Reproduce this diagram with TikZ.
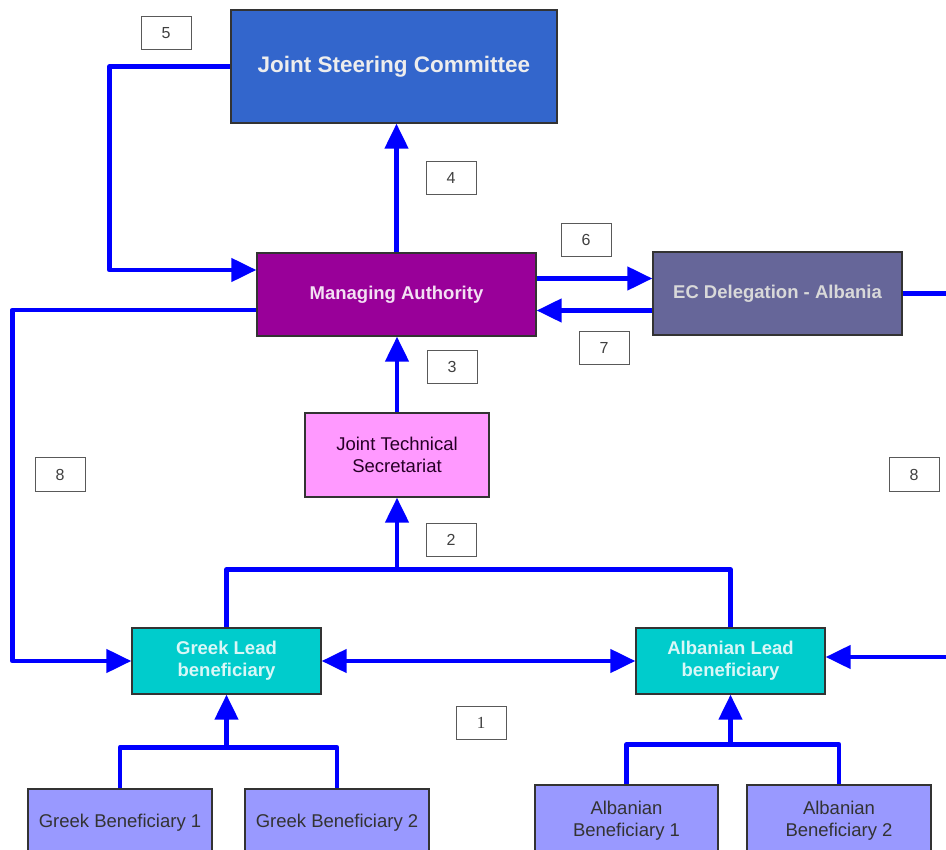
\documentclass[tikz,border=0pt]{standalone}
\usepackage{fontspec}
\setmainfont{Liberation Sans}
\newfontfamily\serifnum{Liberation Serif}
\usetikzlibrary{arrows.meta}
\definecolor{cjsc}{HTML}{3366CC}
\definecolor{cma}{HTML}{990099}
\definecolor{cec}{HTML}{666699}
\definecolor{cjts}{HTML}{FF99FF}
\definecolor{clead}{HTML}{00CCCC}
\definecolor{cben}{HTML}{9999FF}
\definecolor{cline}{HTML}{0000FF}
\definecolor{cborder}{HTML}{333333}
\tikzset{
  box/.style={draw=cborder, line width=1.3pt, inner sep=0pt, align=center},
  boldtxt/.style={font=\fontsize{18.5}{22}\selectfont\bfseries},
  regtxt/.style={font=\fontsize{18.5}{22.5}\selectfont, text=black!80},
  lab/.style={draw=black!65, line width=1pt, fill=white, minimum width=50pt, minimum height=33pt, inner sep=0pt, font=\fontsize{16}{18}\selectfont, text=black!75},
  conn/.style={draw=cline, line width=4.5pt, line join=round},
  arr/.style={conn, -{Triangle[length=25pt,width=23pt]}},
  darr/.style={conn, {Triangle[length=25pt,width=23pt]}-{Triangle[length=25pt,width=23pt]}},
}
\begin{document}
\begin{tikzpicture}[x=1pt,y=-1pt]
\useasboundingbox (0,0) rectangle (946,850);
\clip (0,0) rectangle (946,850);
% boxes
\node[box, fill=cjsc, minimum width=326pt, minimum height=113pt, font=\fontsize{22.5}{26}\selectfont\bfseries, text=white!93!black] (jsc) at (394,66.5) {Joint Steering Committee};
\node[box, fill=cma, minimum width=279pt, minimum height=83pt, boldtxt, text=white!88!cma] (ma) at (396.5,294.5) {Managing Authority};
\node[box, fill=cec, minimum width=249pt, minimum height=83pt, boldtxt, text=white!85!black] (ec) at (777.5,293.5) {EC Delegation - Albania};
\node[box, fill=cjts, minimum width=184pt, minimum height=84pt, regtxt, text=black!75!cma] (jts) at (397,455) {Joint Technical\\Secretariat};
\node[box, fill=clead, minimum width=189pt, minimum height=66pt, boldtxt, text=white!85!clead] (gl) at (226.5,661) {Greek Lead\\beneficiary};
\node[box, fill=clead, minimum width=189pt, minimum height=66pt, boldtxt, text=white!85!clead] (al) at (730.5,661) {Albanian Lead\\beneficiary};
\node[box, fill=cben, minimum width=184pt, minimum height=67pt, regtxt] (gb1) at (120,822.5) {Greek Beneficiary 1};
\node[box, fill=cben, minimum width=184pt, minimum height=67pt, regtxt] (gb2) at (337,822.5) {Greek Beneficiary 2};
\node[box, fill=cben, minimum width=183pt, minimum height=71pt, regtxt] (ab1) at (626.5,820.5) {Albanian\\Beneficiary 1};
\node[box, fill=cben, minimum width=184pt, minimum height=71pt, regtxt] (ab2) at (839,820.5) {Albanian\\Beneficiary 2};
% labels
\node[lab] (l5) at (166,33.5) {5};
\node[lab] (l4) at (451,178) {4};
\node[lab] (l6) at (586,240) {6};
\node[lab] (l7) at (604,348) {7};
\node[lab] (l3) at (452,367) {3};
\node[lab] (l8a) at (60,474.5) {8};
\node[lab] (l8b) at (914,474.5) {8};
\node[lab] (l2) at (451,540) {2};
\node[lab, font=\serifnum\fontsize{17}{18}\selectfont] (l1) at (481,722.5) {1};
% coordinates
\coordinate (ecout) at (952,293.5);
\coordinate (alin) at (952,657);
\coordinate (jtsin) at (397,570);
\coordinate (glin) at (226.5,748);
\coordinate (alin2) at (730.5,745);
% connectors
\draw[arr] (jsc.west) -- ++(-121,0) |- ([yshift=24.5pt]ma.west);
\draw[arr] (ma.north) -- (ma.north |- jsc.south);
\draw[arr] ([yshift=16pt]ma.east) -- ([yshift=16pt]ma.east -| ec.west);
\draw[arr] ([yshift=-17pt]ec.west) -- ([yshift=-17pt]ec.west -| ma.east);
\draw[conn] (ec.east) -- (ecout);
\draw[arr] (jts.north) -- (jts.north |- ma.south);
\draw[arr] ([yshift=-15.5pt]ma.west) -- ++(-244,0) |- (gl.west);
\draw[conn] (gl.north) -- ++(0,-58) -| (al.north);
\draw[arr] (jtsin) -- (jts.south);
\draw[darr] (gl.east) -- (al.west);
\draw[arr] (alin) -- (alin -| al.east);
\draw[conn] (gb1.north) -- ++(0,-41) -| (gb2.north);
\draw[arr] (glin) -- (gl.south);
\draw[conn] (ab1.north) -- ++(0,-40) -| (ab2.north);
\draw[arr] (alin2) -- (al.south);
\end{tikzpicture}
\end{document}
